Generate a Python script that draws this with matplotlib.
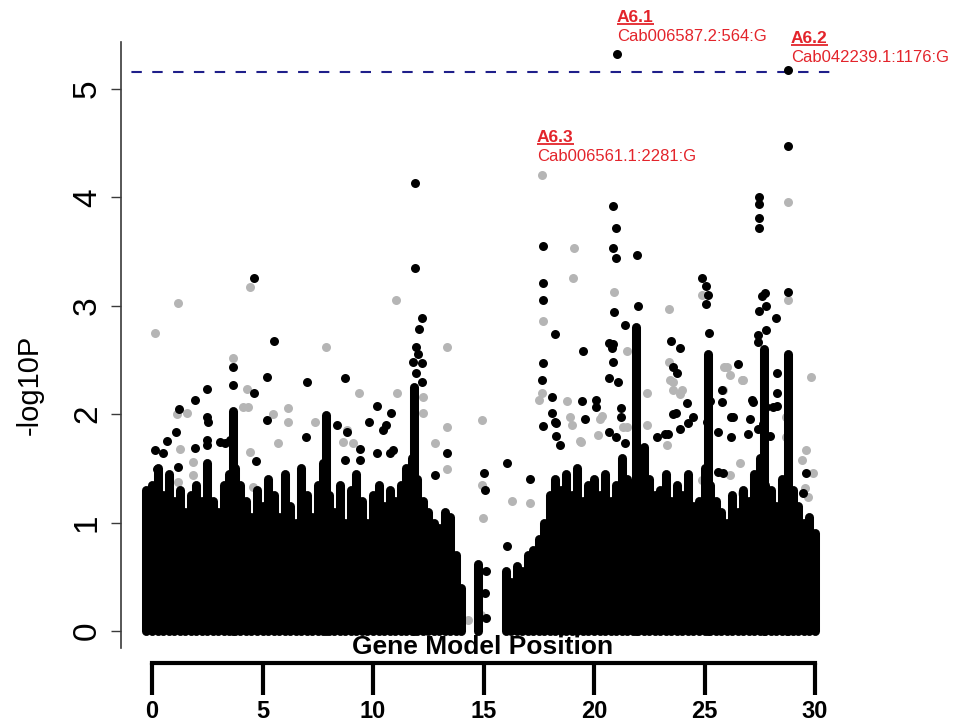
import numpy as np
import matplotlib
matplotlib.use("Agg")
import matplotlib.pyplot as plt
from matplotlib.collections import LineCollection

plt.rcParams['font.family'] = ['Liberation Sans', 'DejaVu Sans']

# threshold line
threshold = 5.157

# dense block of SNPs: top of the solid mass per 0.25 bin (nan = empty)
mass_x = np.arange(-0.25, 30.01, 0.25)
mass_top = [1.30,
            1.35, 1.50, 1.25, 1.45,  1.20, 1.30, 1.10, 1.25,  1.35, 1.20, 1.55, 1.20,
            1.10, 1.35, 1.45, 1.50,  1.35, 1.20, 1.05, 1.30,  1.15, 1.40, 1.25, 1.05,
            1.45, 1.15, 1.00, 1.50,  1.25, 1.05, 1.35, 1.55,  1.25, 1.10, 1.35, 1.00,
            1.30, 1.45, 1.20, 1.00,  1.25, 1.35, 1.15, 1.30,  1.20, 1.35, 1.50, 1.60,
            1.40, 1.20, 1.10, 1.00,  0.95, 1.10, 1.05, 0.70,  0.40, np.nan, np.nan, 0.62,
            np.nan, np.nan, np.nan, np.nan,  0.55, 0.45, 0.60, 0.55,  0.70, 0.75, 0.85, 1.00,
            1.25, 1.40, 1.30, 1.45,  1.25, 1.50, 1.20, 1.35,  1.40, 1.25, 1.45, 1.20,
            1.35, 1.60, 1.40, 1.30,  1.50, 1.70, 1.40, 1.25,  1.30, 1.45, 1.20, 1.35,
            1.25, 1.45, 1.15, 1.20,  1.50, 1.35, 1.20, 1.10,  1.00, 1.25, 1.10, 1.30,
            1.20, 1.45, 1.60, 1.35,  1.30, 1.15, 1.40, 1.20,  1.30, 1.15, 1.00, 1.05,
            0.90]

# tightly stacked gene models that rise above the mass
stack_x = [3.67, 7.87, 11.85, 21.9, 25.15, 27.7, 28.8]
stack_top = [2.03, 1.99, 2.25, 2.80, 2.56, 2.60, 2.56]

# individual black SNPs
black_x = [21.05, 28.8, 28.8, 11.9, 11.9, 4.62,
           27.45, 27.45, 27.45, 27.45, 20.87, 21.0, 20.87, 21.0, 21.95,
           17.7, 17.7, 17.7, 18.24, 20.9, 22.0,
           24.9, 25.05, 25.15, 25.05, 25.2, 27.75, 27.6, 27.8, 27.45, 28.25, 28.8,
           19.5, 20.86, 23.5, 23.9, 27.4, 27.4, 27.8,
           12.2, 12.1, 5.5, 11.95, 12.05, 11.8, 12.2, 11.95, 12.2, 21.4,
           17.7, 17.65, 18.1, 18.1, 18.3, 17.7, 19.45, 20.1, 20.1, 19.6,
           20.7, 20.8, 20.86, 20.7, 21.1, 21.2, 21.2, 20.7, 21.0, 21.4,
           23.57, 23.75, 22.85, 23.57, 23.35,
           26.5, 25.8, 25.8, 26.2, 27.15, 24.2, 23.7, 24.5, 24.25,
           28.28, 28.3, 28.1, 29.6, 29.45, 25.6, 25.84, 26.2, 25.6,
           3.67, 3.67, 2.49, 4.62, 5.2, 7.0, 8.73, 1.95, 1.22, 2.49, 2.53, 5.2, 6.97, 8.37,
           1.08, 0.68, 0.14, 0.5, 2.49, 2.5, 1.95, 3.08, 3.3, 3.53, 4.7, 1.18, 0.23,
           10.2, 10.8, 9.8, 10.6, 10.45, 13.35, 12.8,
           8.73, 9.41, 9.41, 10.18, 10.77, 10.9, 8.82,
           15.0, 15.05, 16.06, 17.1, 16.06, 15.1, 15.05, 15.1,
           18.24, 18.3, 18.46, 23.2, 23.9, 25.1, 25.25, 26.3,
           27.2, 27.06, 27.4, 26.97, 27.65, 27.96, 28.28, 27.78]
black_y = [5.32, 5.18, 4.47, 4.13, 3.35, 3.26,
           4.00, 3.94, 3.81, 3.72, 3.92, 3.72, 3.53, 3.44, 3.47,
           3.55, 3.21, 3.05, 2.74, 2.94, 3.00,
           3.26, 3.18, 3.10, 3.02, 2.75, 3.12, 3.09, 3.00, 2.95, 2.89, 3.13,
           2.58, 2.65, 2.68, 2.61, 2.73, 2.67, 2.78,
           2.89, 2.79, 2.68, 2.62, 2.56, 2.48, 2.47, 2.38, 2.30, 2.82,
           2.47, 2.32, 2.16, 2.01, 1.92, 1.89, 2.12, 2.13, 2.07, 1.96,
           2.66, 2.61, 2.48, 2.33, 2.30, 2.06, 1.97, 1.84, 1.79, 1.73,
           2.44, 2.38, 1.79, 2.00, 1.82,
           2.46, 2.22, 2.11, 1.97, 2.13, 2.10, 2.01, 1.97, 1.92,
           2.38, 2.20, 2.07, 1.46, 1.27, 1.47, 1.46, 1.79, 1.84,
           2.44, 2.27, 2.23, 2.20, 2.34, 2.30, 2.33, 2.13, 2.05, 1.97, 1.93, 1.95, 1.79, 1.90,
           1.84, 1.75, 1.67, 1.64, 1.76, 1.72, 1.69, 1.74, 1.73, 1.76, 1.57, 1.51, 1.49,
           2.08, 2.01, 1.93, 1.90, 1.85, 1.64, 1.44,
           1.58, 1.68, 1.58, 1.64, 1.64, 1.67, 1.84,
           1.46, 1.30, 1.55, 1.40, 0.78, 0.12, 0.35, 0.55,
           1.93, 1.80, 1.72, 1.82, 1.86, 1.93, 2.12, 1.97,
           2.11, 1.96, 1.86, 1.82, 1.91, 1.80, 2.08, 2.07]

# individual grey SNPs
gray_x = [28.8, 17.65, 4.43, 1.18, 0.14, 11.04, 7.87, 13.35, 3.67,
          19.1, 19.05, 17.7, 20.9, 23.4, 24.9, 28.8, 21.5,
          17.65, 17.5, 18.8, 20.27, 18.9, 19.0, 20.2, 19.4,
          21.3, 23.4, 23.57, 23.57, 22.4, 22.4, 23.3,
          25.9, 26.15, 26.7, 29.8, 25.85, 24.0, 23.45,
          28.7, 28.7, 29.6, 29.4, 29.9, 29.55, 29.7,
          26.6, 26.15, 26.7, 24.9, 25.0,
          14.93, 14.93, 16.3, 14.97, 17.1,
          4.3, 1.58, 1.13, 4.1, 4.35, 5.48, 6.15, 6.15, 7.38, 5.7,
          9.37, 11.1, 12.26, 12.26, 12.8, 13.35, 13.35, 8.82, 8.64, 9.1,
          1.27, 1.86, 1.86, 1.18, 4.43, 4.57,
          19.37, 20.36, 21.5, 22.08, 23.9, 26.0, 26.74, 14.3, 14.9]
gray_y = [3.96, 4.21, 3.17, 3.03, 2.75, 3.05, 2.62, 2.62, 2.52,
          3.53, 3.26, 2.86, 3.13, 2.97, 3.10, 3.05, 2.58,
          2.20, 2.13, 2.12, 1.96, 1.97, 1.90, 1.81, 1.74,
          1.88, 2.48, 2.30, 2.22, 2.20, 1.90, 1.72,
          2.44, 2.36, 2.32, 2.34, 2.22, 2.22, 2.32,
          1.97, 1.79, 1.67, 1.58, 1.46, 1.32, 1.24,
          1.55, 1.44, 1.27, 1.39, 1.46,
          1.95, 1.35, 1.20, 1.04, 1.18,
          2.23, 2.01, 2.00, 2.07, 2.07, 2.00, 2.06, 1.93, 1.93, 1.73,
          2.20, 2.20, 2.16, 2.01, 1.73, 1.88, 1.49, 1.85, 1.74, 1.73,
          1.68, 1.56, 1.44, 1.37, 1.65, 1.33,
          1.75, 1.98, 1.88, 1.65, 2.19, 2.44, 2.32, 0.10, 0.15]

# labelled hits: (x, y of header baseline, name, marker id)
hit_x = [21.04, 28.91, 17.42]
hit_y = [5.618, 5.427, 4.514]
hit_names = ['A6.1', 'A6.2', 'A6.3']
hit_ids = ['Cab006587.2:564:G', 'Cab042239.1:1176:G', 'Cab006561.1:2281:G']

fig = plt.figure(figsize=(9.6, 7.28), dpi=100)
ax = fig.add_axes([121 / 960, 80 / 728, 717 / 960, 606 / 728])
ax.set_xlim(-1.403, 31.04)
ax.set_ylim(-0.157, 5.434)

ax.scatter(gray_x, gray_y, s=42, c='#b5b5b5', linewidths=0, zorder=2)

segs = [[(x, 0), (x, h)] for x, h in zip(mass_x, mass_top) if not np.isnan(h)]
segs += [[(x, 0), (x, h)] for x, h in zip(stack_x, stack_top)]
lc = LineCollection(segs, colors='black', linewidths=6.5, capstyle='round', zorder=3)
ax.add_collection(lc)

ax.scatter(black_x, black_y, s=42, c='black', linewidths=0, zorder=4)

ax.axhline(threshold, color='#1f1f8a', lw=1.5, ls=(5, (5, 5)), zorder=1)

for s in ['top', 'right', 'bottom']:
    ax.spines[s].set_visible(False)
ax.spines['left'].set_color('#3a3a3a')
ax.spines['left'].set_linewidth(1.2)
ax.set_xticks([])
ax.set_yticks(range(6))
ax.set_yticklabels([str(i) for i in range(6)], rotation=90, va='center', fontsize=24)
ax.tick_params(axis='y', length=7, width=1, color='#3a3a3a', pad=6)

fig.text(30 / 960, 1 - 385 / 728, '-log10P', rotation=90, ha='center', va='center', fontsize=21)
fig.text(483 / 960, 1 - 647 / 728, 'Gene Model Position', ha='center', va='center',
         fontsize=19, fontweight='bold')

red = '#e3242b'
heads = []
for x, y, name, sid in zip(hit_x, hit_y, hit_names, hit_ids):
    t = ax.text(x, y, name, color=red, fontsize=12.5, fontweight='bold', va='baseline',
                ha='left', clip_on=False)
    ax.text(x, y - 0.178, sid, color=red, fontsize=12, va='baseline', ha='left', clip_on=False)
    heads.append((x, y, t))

fig.canvas.draw()
inv = ax.transData.inverted()
for x, y, t in heads:
    bb = t.get_window_extent()
    x1 = inv.transform((bb.x1, bb.y0))[0]
    yu = y - 2.0 / 108.4
    ax.plot([x, x1], [yu, yu], color=red, lw=1.3, clip_on=False, solid_capstyle='butt')

# separate position scale at the bottom
bax = fig.add_axes([121 / 960, (728 - 663) / 728, 717 / 960, 0.001])
bax.set_xlim(-1.403, 31.04)
bax.patch.set_visible(False)
for s in ['top', 'right', 'left']:
    bax.spines[s].set_visible(False)
bax.spines['bottom'].set_linewidth(3)
bax.spines['bottom'].set_bounds(0, 30)
bax.set_yticks([])
bax.set_xticks(range(0, 31, 5))
bax.set_xticklabels([str(v) for v in range(0, 31, 5)], fontsize=17, fontweight='bold')
bax.tick_params(axis='x', length=23, width=3, direction='out', pad=4)

fig.savefig('out.png', dpi=100)
